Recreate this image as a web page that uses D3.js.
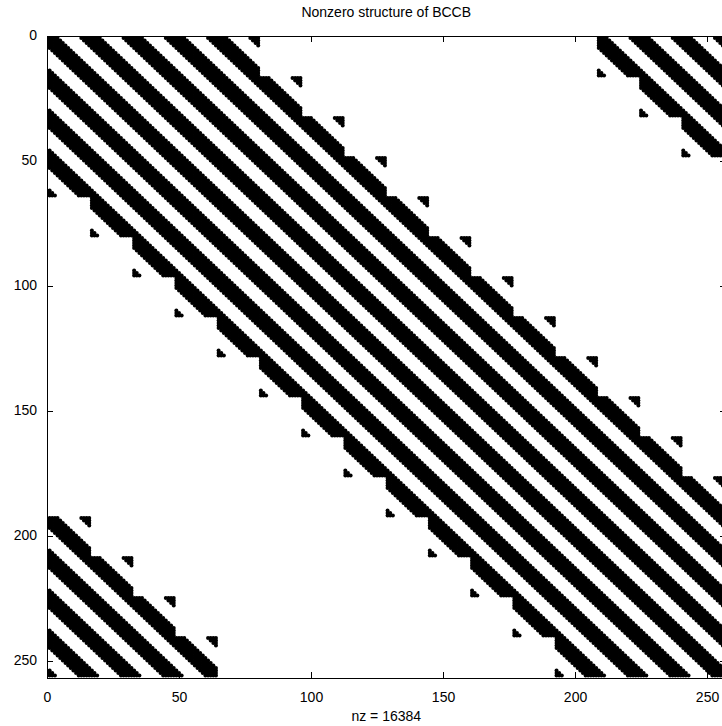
<!DOCTYPE html>
<html><head><meta charset="utf-8">
<script src="https://cdn.jsdelivr.net/npm/d3@7"></script>
<style>body{margin:0;background:#fff;overflow:hidden}</style>
</head><body>
<svg id="c" width="722" height="726"></svg>
<script>
// Matrix structure (BCCB, 256x256 with 16x16 circulant blocks)
const n = 256;
const blockSize = 16;
const blockOffsets = [-3, -2, -1, 0, 1, 2, 3, 4];   // nonzero block diagonals (mod 16)
const innerOffsets = [-4, -3, -2, -1, 0, 1, 2, 3];  // nonzero diagonals inside each block (mod 16)
const xTicks = [0, 50, 100, 150, 200, 250];
const yTicks = [0, 50, 100, 150, 200, 250];
const titleText = "Nonzero structure of BCCB";

const nb = n / blockSize;
const mod = (a, m) => ((a % m) + m) % m;
const bSet = new Set(blockOffsets.map(d => mod(d, nb)));
const iSet = new Set(innerOffsets.map(d => mod(d, blockSize)));
const pts = [];
for (let i = 0; i < n; i++) {
  for (let j = 0; j < n; j++) {
    const bi = Math.floor(i / blockSize), bj = Math.floor(j / blockSize);
    if (bSet.has(mod(bj - bi, nb)) && iSet.has(mod((j % blockSize) - (i % blockSize), blockSize))) {
      pts.push([i + 1, j + 1]);
    }
  }
}

const L = 47, R = 725.5, T = 35.5, B = 678;
const x = d3.scaleLinear().domain([0, n + 1]).range([L, R]);
const y = d3.scaleLinear().domain([0, n + 1]).range([T, B]);

const svg = d3.select("#c");
const font = "'Liberation Sans', Arial, Helvetica, sans-serif";

svg.append("rect").attr("width", 722).attr("height", 726).attr("fill", "#fff");

// nonzero markers
svg.append("g").selectAll("circle").data(pts).join("circle")
  .attr("cx", d => x(d[1]))
  .attr("cy", d => y(d[0]))
  .attr("r", 2.0)
  .attr("fill", "#000");

// axes
const tk = 6;
const gB = svg.append("g").attr("transform", `translate(0,${B})`)
  .call(d3.axisBottom(x).tickValues(xTicks).tickSizeInner(-tk).tickSizeOuter(0).tickPadding(14));
const gT = svg.append("g").attr("transform", `translate(0,${T})`)
  .call(d3.axisTop(x).tickValues(xTicks).tickSizeInner(-tk).tickSizeOuter(0).tickFormat(""));
const gL = svg.append("g").attr("transform", `translate(${L},0)`)
  .call(d3.axisLeft(y).tickValues(yTicks).tickSizeInner(-tk).tickSizeOuter(0).tickPadding(10));
const gR = svg.append("g").attr("transform", `translate(${R},0)`)
  .call(d3.axisRight(y).tickValues(yTicks).tickSizeInner(-tk).tickSizeOuter(0).tickFormat(""));

[gB, gT, gL, gR].forEach(g => {
  g.select(".domain").attr("stroke", "#000").attr("stroke-width", 1).attr("shape-rendering", "crispEdges");
  g.selectAll(".tick line").attr("stroke", "#000").attr("shape-rendering", "crispEdges");
  g.selectAll("text").attr("font-family", font).attr("font-size", 14).attr("fill", "#000");
});

svg.append("text").attr("x", (L + R) / 2).attr("y", 17)
  .attr("text-anchor", "middle").attr("font-family", font).attr("font-size", 14)
  .text(titleText);
svg.append("text").attr("x", (L + R) / 2).attr("y", 721)
  .attr("text-anchor", "middle").attr("font-family", font).attr("font-size", 14)
  .text("nz = " + pts.length);
</script>
</body></html>
